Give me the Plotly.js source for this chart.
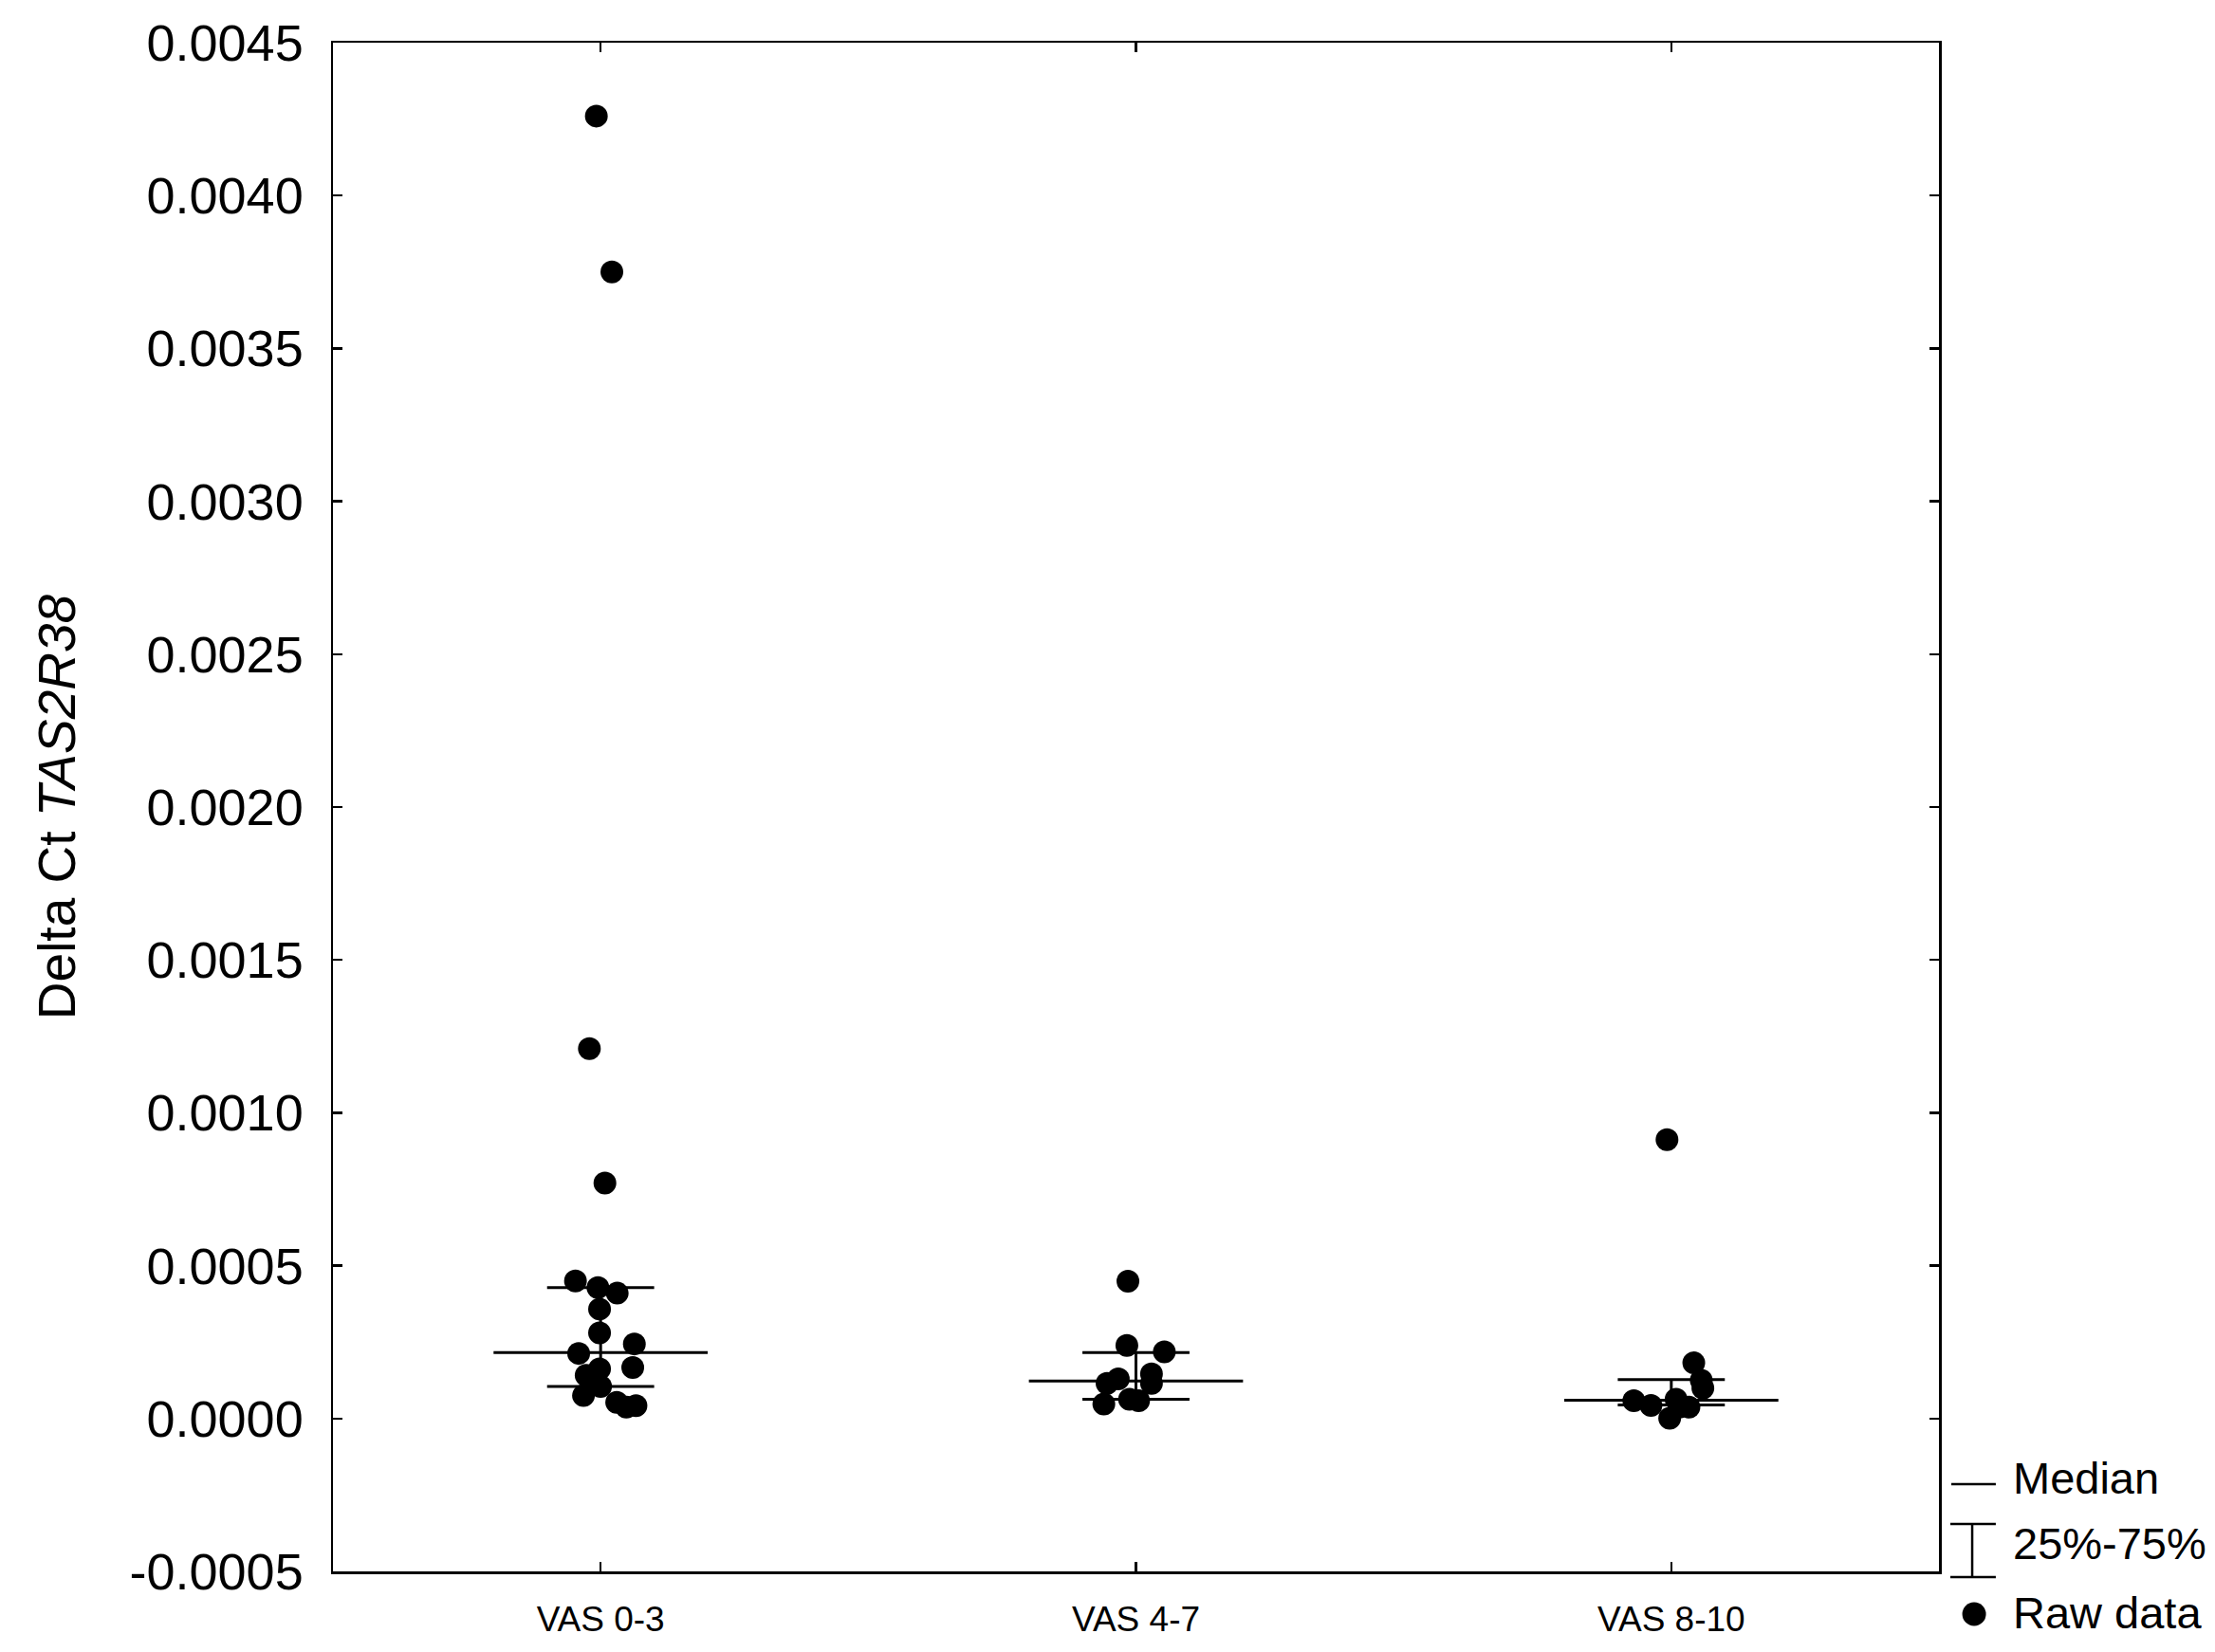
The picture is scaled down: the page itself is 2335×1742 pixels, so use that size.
<!DOCTYPE html>
<html>
<head>
<meta charset="utf-8">
<script src="https://cdn.plot.ly/plotly-3.0.1.min.js"></script>
<style>html,body{margin:0;padding:0;background:#fff;}#chart{width:2335px;height:1742px;}</style>
</head>
<body>
<div id="chart"></div>
<script>
// ---- data ----
const categories = ["VAS 0-3", "VAS 4-7", "VAS 8-10"];

const valuesVAS03 = [0.00426, 0.00375, 0.00121, 0.00077, 0.00045, 0.000428, 0.00041, 0.000358, 0.00028, 0.000244, 0.000213, 0.000167, 0.000162, 0.000141, 0.000105, 0.000075, 0.000053, 0.000037, 0.000042];
const jitterVAS03 = [-0.008, 0.021, -0.021, 0.008, -0.047, -0.005, 0.031, -0.002, -0.002, 0.063, -0.041, 0.060, -0.002, -0.027, 0.0, -0.032, 0.030, 0.048, 0.066];

const valuesVAS47 = [0.000449, 0.000239, 0.000218, 0.000146, 0.000130, 0.000115, 0.000115, 0.000063, 0.000058, 0.0000475];
const jitterVAS47 = [-0.015, -0.017, 0.053, 0.029, -0.033, -0.054, 0.029, -0.012, 0.005, -0.060];

const valuesVAS810 = [0.000912, 0.000182, 0.000125, 0.0000994, 0.000063, 0.000058, 0.0000425, 0.0000373, 0.000037, 0.000001];
const jitterVAS810 = [-0.008, 0.042, 0.056, 0.059, 0.009, -0.070, -0.038, 0.033, 0.015, -0.003];

const medians = [0.000216, 0.000123, 0.00006];
const q25 = [0.000105, 0.000063, 0.0000444];
const q75 = [0.000428, 0.000216, 0.000127];

const yTickVals = [-0.0005, 0, 0.0005, 0.001, 0.0015, 0.002, 0.0025, 0.003, 0.0035, 0.004, 0.0045];
const yTickText = ["-0.0005", "0.0000", "0.0005", "0.0010", "0.0015", "0.0020", "0.0025", "0.0030", "0.0035", "0.0040", "0.0045"];

// ---- build traces ----
const groups = [
  {v: valuesVAS03, j: jitterVAS03},
  {v: valuesVAS47, j: jitterVAS47},
  {v: valuesVAS810, j: jitterVAS810}
];
const ptsX = [], ptsY = [];
groups.forEach((g, i) => {
  g.v.forEach((val, k) => { ptsX.push(i + g.j[k]); ptsY.push(val); });
});

const MED_HALF = 0.2, CAP_HALF = 0.1;
const lx = [], ly = [];
categories.forEach((c, i) => {
  lx.push(i - MED_HALF, i + MED_HALF, null); ly.push(medians[i], medians[i], null);
  lx.push(i - CAP_HALF, i + CAP_HALF, null); ly.push(q25[i], q25[i], null);
  lx.push(i - CAP_HALF, i + CAP_HALF, null); ly.push(q75[i], q75[i], null);
  lx.push(i, i, null); ly.push(q25[i], q75[i], null);
});

const traces = [
  {x: ptsX, y: ptsY, type: 'scatter', mode: 'markers',
   marker: {color: '#000', size: 24}, hoverinfo: 'y', showlegend: false},
  {x: lx, y: ly, type: 'scatter', mode: 'lines',
   line: {color: '#000', width: 3}, hoverinfo: 'skip', showlegend: false}
];

const AX = {color: '#000', linecolor: '#000', linewidth: 2.5, showline: true, mirror: 'ticks',
            ticks: 'inside', tickcolor: '#000', tickwidth: 2.5, ticklen: 10,
            showgrid: false, zeroline: false};

const legendFont = {family: 'Liberation Sans, Arial, sans-serif', size: 47, color: '#000'};

const layout = {
  width: 2335, height: 1742,
  margin: {l: 351, r: 291, t: 45, b: 85},
  paper_bgcolor: '#fff', plot_bgcolor: '#fff',
  showlegend: false,
  xaxis: Object.assign({}, AX, {
    range: [-0.5, 2.5], tickvals: [0, 1, 2], ticktext: categories,
    tickfont: {family: 'Liberation Sans Narrow, Arial Narrow, Liberation Sans, sans-serif', size: 37, color: '#000'},
    ticklabelstandoff: 16
  }),
  yaxis: Object.assign({}, AX, {
    range: [-0.0005, 0.0045], tickvals: yTickVals, ticktext: yTickText,
    tickfont: {family: 'Liberation Sans, Arial, sans-serif', size: 54, color: '#000'},
    ticklabelstandoff: 18,
    title: {text: 'Delta Ct <i>TAS2R38</i>', standoff: 40,
            font: {family: 'Liberation Sans, Arial, sans-serif', size: 55, color: '#000'}}
  }),
  shapes: [
    {type: 'line', xref: 'paper', yref: 'paper', x0: 1.0077, x1: 1.0354, y0: 0.0571, y1: 0.0571, line: {color: '#000', width: 2.5}},
    {type: 'line', xref: 'paper', yref: 'paper', x0: 1.0071, x1: 1.0354, y0: 0.0310, y1: 0.0310, line: {color: '#000', width: 2.5}},
    {type: 'line', xref: 'paper', yref: 'paper', x0: 1.0071, x1: 1.0354, y0: -0.0037, y1: -0.0037, line: {color: '#000', width: 2.5}},
    {type: 'line', xref: 'paper', yref: 'paper', x0: 1.0207, x1: 1.0207, y0: -0.0037, y1: 0.0310, line: {color: '#000', width: 2.5}},
    {type: 'circle', xref: 'paper', yref: 'paper', xsizemode: 'pixel', ysizemode: 'pixel',
     xanchor: 1.0219, yanchor: -0.0279, x0: -12.5, x1: 12.5, y0: -12.5, y1: 12.5,
     fillcolor: '#000', line: {color: '#000', width: 0}}
  ],
  annotations: [
    {xref: 'paper', yref: 'paper', x: 1.045, y: 0.0614, xanchor: 'left', yanchor: 'middle', showarrow: false, text: 'Median', font: legendFont},
    {xref: 'paper', yref: 'paper', x: 1.045, y: 0.018, xanchor: 'left', yanchor: 'middle', showarrow: false, text: '25%-75%', font: legendFont},
    {xref: 'paper', yref: 'paper', x: 1.045, y: -0.0267, xanchor: 'left', yanchor: 'middle', showarrow: false, text: 'Raw data', font: legendFont}
  ]
};

Plotly.newPlot('chart', traces, layout, {displayModeBar: false, staticPlot: true});
</script>
</body>
</html>
